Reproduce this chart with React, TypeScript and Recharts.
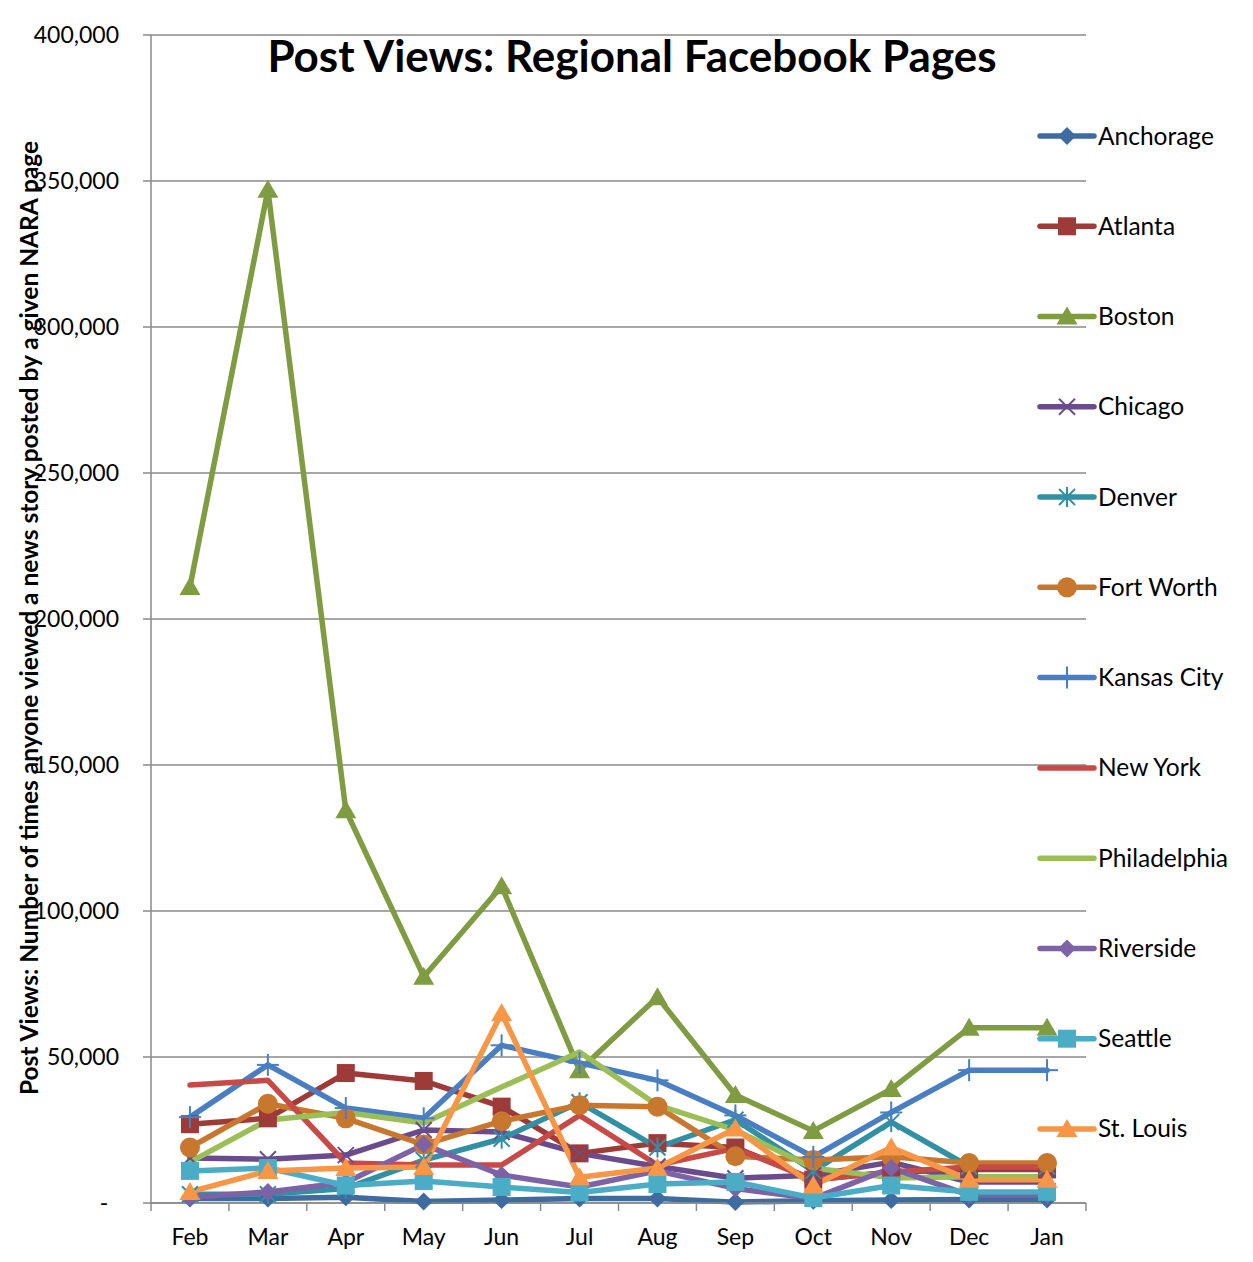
import { CartesianGrid, Legend, Line, LineChart, XAxis, YAxis } from 'recharts'

const MONTHS = ['Feb', 'Mar', 'Apr', 'May', 'Jun', 'Jul', 'Aug', 'Sep', 'Oct', 'Nov', 'Dec', 'Jan']
const Y_TICKS = [0, 50000, 100000, 150000, 200000, 250000, 300000, 350000, 400000]

const ANCHORAGE = [1500, 1500, 2000, 500, 1000, 1500, 1500, 300, 800, 1000, 1200, 1200]
const ATLANTA = [27000, 29000, 44500, 41800, 33000, 17000, 20500, 19000, 8000, 10500, 11500, 11500]
const BOSTON = [211000, 347000, 134500, 77500, 108500, 45500, 70500, 37000, 24700, 39000, 60000, 60000]
const CHICAGO = [15400, 15000, 16400, 25000, 24300, 17000, 12500, 8500, 9500, 14000, 7200, 7200]
const DENVER = [3000, 3000, 5000, 14700, 22000, 34500, 19000, 28500, 11000, 27700, 12500, 12500]
const FORT_WORTH = [19000, 34000, 29000, 20000, 28000, 33500, 33000, 16000, 14700, 15800, 13700, 13700]
const KANSAS_CITY = [29400, 47300, 32500, 29000, 54000, 48000, 42000, 30000, 15800, 31000, 45500, 45500]
const NEW_YORK = [40400, 42000, 13700, 13000, 13000, 30000, 13000, 18700, 8000, 10600, 12300, 12300]
const PHILADELPHIA = [14000, 28400, 31000, 27400, 39700, 51700, 33500, 25000, 12000, 8600, 9000, 9000]
const RIVERSIDE = [2000, 3800, 7000, 20000, 9600, 5500, 11000, 5000, 1500, 12000, 2700, 2700]
const SEATTLE = [11000, 12000, 6000, 7500, 5500, 3600, 6500, 7200, 1700, 6000, 3800, 3800]
const ST_LOUIS = [3800, 11000, 12000, 12300, 65000, 8800, 12000, 25500, 6000, 19000, 8000, 8000]

type Marker = 'diamond' | 'square' | 'triangle' | 'x' | 'star' | 'circle' | 'plus' | 'none'

const SERIES: { name: string; values: number[]; color: string; marker: Marker }[] = [
	{ name: 'Anchorage', values: ANCHORAGE, color: '#3E6BA0', marker: 'diamond' },
	{ name: 'Atlanta', values: ATLANTA, color: '#9E3B38', marker: 'square' },
	{ name: 'Boston', values: BOSTON, color: '#7F9C43', marker: 'triangle' },
	{ name: 'Chicago', values: CHICAGO, color: '#6A4C8C', marker: 'x' },
	{ name: 'Denver', values: DENVER, color: '#3190A4', marker: 'star' },
	{ name: 'Fort Worth', values: FORT_WORTH, color: '#C8772F', marker: 'circle' },
	{ name: 'Kansas City', values: KANSAS_CITY, color: '#4A7EC2', marker: 'plus' },
	{ name: 'New York', values: NEW_YORK, color: '#C74A47', marker: 'none' },
	{ name: 'Philadelphia', values: PHILADELPHIA, color: '#9BBE56', marker: 'none' },
	{ name: 'Riverside', values: RIVERSIDE, color: '#7E62A6', marker: 'diamond' },
	{ name: 'Seattle', values: SEATTLE, color: '#4BACC6', marker: 'square' },
	{ name: 'St. Louis', values: ST_LOUIS, color: '#F79646', marker: 'triangle' },
]

const data = MONTHS.map((month, i) => {
	const row: Record<string, string | number> = { month }
	SERIES.forEach((s) => {
		row[s.name] = s.values[i]
	})
	return row
})

const W = 1237
const H = 1245
const PLOT_LEFT = 143
const PLOT_RIGHT = 1078
const BAND = (PLOT_RIGHT - PLOT_LEFT) / MONTHS.length
const FONT = 'Lato, "Open Sans", sans-serif'
const GRID = '#8a8a8a'

function MarkerShape({ type, cx, cy, color }: { type: Marker; cx: number; cy: number; color: string }) {
	switch (type) {
		case 'diamond':
			return <polygon points={`${cx},${cy - 9} ${cx + 9},${cy} ${cx},${cy + 9} ${cx - 9},${cy}`} fill={color} />
		case 'square':
			return <rect x={cx - 9} y={cy - 9} width={18} height={18} fill={color} />
		case 'triangle':
			return <polygon points={`${cx},${cy - 10} ${cx + 10.5},${cy + 8} ${cx - 10.5},${cy + 8}`} fill={color} />
		case 'circle':
			return <circle cx={cx} cy={cy} r={10} fill={color} />
		case 'x':
			return (
				<g stroke={color} strokeWidth={2}>
					<line x1={cx - 8} y1={cy - 8} x2={cx + 8} y2={cy + 8} />
					<line x1={cx - 8} y1={cy + 8} x2={cx + 8} y2={cy - 8} />
				</g>
			)
		case 'star':
			return (
				<g stroke={color} strokeWidth={2}>
					<line x1={cx - 8} y1={cy - 8} x2={cx + 8} y2={cy + 8} />
					<line x1={cx - 8} y1={cy + 8} x2={cx + 8} y2={cy - 8} />
					<line x1={cx} y1={cy - 10} x2={cx} y2={cy + 10} />
				</g>
			)
		case 'plus':
			return (
				<g stroke={color} strokeWidth={2}>
					<line x1={cx} y1={cy - 11} x2={cx} y2={cy + 11} />
					<line x1={cx - 11} y1={cy} x2={cx + 11} y2={cy} />
				</g>
			)
		default:
			return null
	}
}

function YTick({ x, y, payload }: any) {
	const v = payload.value as number
	if (v === 0) {
		return (
			<text x={x - 15} y={y + 8} textAnchor="middle" fontSize={23} fontFamily={FONT} fill="#000">
				-
			</text>
		)
	}
	return (
		<text x={x} y={y + 8} textAnchor="end" fontSize={23} fontFamily={FONT} fill="#000">
			{v.toLocaleString('en-US')}
		</text>
	)
}

function XTick({ x, y, payload, index }: any) {
	const last = index === MONTHS.length - 1
	return (
		<g>
			<line x1={x - BAND / 2} y1={y} x2={x - BAND / 2} y2={y + 8} stroke={GRID} strokeWidth={1.5} />
			{last && <line x1={x + BAND / 2} y1={y} x2={x + BAND / 2} y2={y + 8} stroke={GRID} strokeWidth={1.5} />}
			<text x={x} y={y + 42} textAnchor="middle" fontSize={23} fontFamily={FONT} fill="#000">
				{payload.value}
			</text>
		</g>
	)
}

function LegendBox() {
	return (
		<svg width={230} height={1150} style={{ display: 'block' }}>
			{SERIES.map((s, i) => {
				const y = 128 + i * 90.27
				return (
					<g key={s.name}>
						<line x1={18} y1={y} x2={72} y2={y} stroke={s.color} strokeWidth={5.5} strokeLinecap="round" />
						<MarkerShape type={s.marker} cx={45} cy={y} color={s.color} />
						<text x={76} y={y + 8.5} fontSize={24.5} fontFamily={FONT} fill="#000">
							{s.name}
						</text>
					</g>
				)
			})}
		</svg>
	)
}

export default function App() {
	return (
		<div
			style={{
				position: 'relative',
				width: W,
				height: H,
				margin: '-1px 0 0 -1px',
				borderLeft: `1px solid ${GRID}`,
				borderTop: `1px solid ${GRID}`,
				background: '#fff',
			}}
		>
			<LineChart width={W} height={H} data={data} margin={{ top: 27, right: W - PLOT_RIGHT, bottom: 0, left: 0 }}>
				<CartesianGrid vertical={false} stroke={GRID} strokeWidth={1.5} />
				<XAxis
					dataKey="month"
					height={50}
					padding={{ left: BAND / 2, right: BAND / 2 }}
					tickLine={false}
					tickSize={0}
					tickMargin={0}
					axisLine={{ stroke: GRID, strokeWidth: 1.5 }}
					tick={<XTick />}
					interval={0}
				/>
				<YAxis
					width={PLOT_LEFT}
					domain={[0, 400000]}
					ticks={Y_TICKS}
					interval={0}
					tickSize={8}
					tickMargin={24}
					axisLine={{ stroke: GRID, strokeWidth: 1.5 }}
					tickLine={{ stroke: GRID, strokeWidth: 1.5 }}
					tick={<YTick />}
					label={{
						content: () => (
							<text
								x={30}
								y={610}
								transform="rotate(-90 30 610)"
								textAnchor="middle"
								fontSize={24.5}
								fontWeight={700}
								fontFamily={FONT}
								fill="#000"
							>
								Post Views: Number of times anyone viewed a news story posted by a given NARA page
							</text>
						),
					}}
				/>
				<Legend
					layout="vertical"
					align="center"
					verticalAlign="middle"
					wrapperStyle={{ left: 1014, top: 0, width: 230, height: 1150 }}
					content={() => <LegendBox />}
				/>
				{SERIES.map((s) => (
					<Line
						key={s.name}
						type="linear"
						dataKey={s.name}
						stroke={s.color}
						strokeWidth={5.5}
						strokeLinejoin="round"
						strokeLinecap="round"
						isAnimationActive={false}
						dot={
							s.marker === 'none'
								? false
								: (p: any) => <MarkerShape key={`${s.name}-${p.index}`} type={s.marker} cx={p.cx} cy={p.cy} color={s.color} />
						}
						activeDot={false}
					/>
				))}
			</LineChart>
			<svg width={W} height={100} style={{ position: 'absolute', left: 0, top: 0, pointerEvents: 'none' }}>
				<text x={624} y={64} textAnchor="middle" fontSize={44} fontWeight={700} fontFamily={FONT} fill="#000">
					Post Views: Regional Facebook Pages
				</text>
			</svg>
		</div>
	)
}
